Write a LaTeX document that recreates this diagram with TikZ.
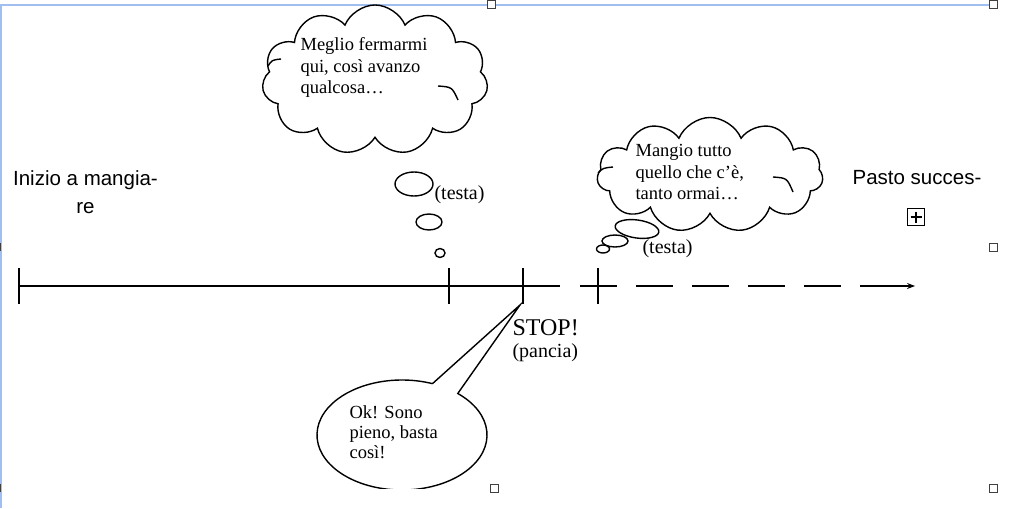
\documentclass[tikz,border=0pt]{standalone}
\usepackage{fontspec}
\setmainfont{Liberation Serif}
\newfontfamily\arialfont{Liberation Sans}
\usetikzlibrary{shapes.symbols,arrows.meta,calc}
\definecolor{selblue}{RGB}{160,190,240}
\begin{document}
\begin{tikzpicture}[x=1pt,y=-1pt,line width=1.1pt]
\tikzstyle{every node}+=[inner sep=0pt]
\tikzstyle{thought}=[draw,fill=white,line width=1.4pt,cloud,cloud puffs=11,cloud puff arc=135,cloud ignores aspect]
\tikzstyle{bubble}=[line width=1.4pt]
\tikzstyle{tick}=[line width=1.1pt]
\tikzstyle{handle}=[draw=black!75,fill=white,line width=0.7pt,minimum size=8pt]
\tikzstyle{serif}=[font=\fontsize{18.5}{21.5}\selectfont,align=left,anchor=north west]
\tikzstyle{sans}=[font=\arialfont\fontsize{20.5}{28}\selectfont,align=center,anchor=north]
\useasboundingbox (0,0) rectangle (1024,508);
\draw[selblue,line width=1.5pt] (0,5) -- (989,5);
\draw[selblue,line width=2pt] (1,5) -- (1,508);
\node[handle] (hTopMid) at (491,4) {};
\node[handle] (hTopRight) at (993,4) {};
\node[handle] (hRight) at (993,247) {};
\node[handle] (hBotMid) at (494,488) {};
\node[handle] (hBotRight) at (993,488) {};
\draw[black!75,line width=1pt] (0.5,243) -- (0.5,251);
\draw[black!75,line width=1pt] (0.5,484) -- (0.5,492);
\coordinate (start) at (19,286);
\coordinate (t1) at (449,286);
\coordinate (t2) at (523,286);
\coordinate (t3) at (598,286);
\coordinate (solidEnd) at (560,286);
\coordinate (dashStart) at (580,286);
\coordinate (dashEnd) at (860,286);
\coordinate (tip) at (915,286);
\draw (start) -- (solidEnd);
\draw[dash pattern=on 37pt off 19pt] (dashStart) -- (dashEnd);
\draw[-{Stealth[length=8pt,width=6pt]}] (dashEnd) -- (tip);
\draw[tick] (start) ++(0,-18) -- ++(0,36);
\draw[tick] (t1) ++(0,-18) -- ++(0,36);
\draw[tick] (t2) ++(0,-18) -- ++(0,36);
\draw[tick] (t3) ++(0,-18) -- ++(0,36);
\node[sans] (inizio) at (85.5,170) {Inizio a mangia-\\re};
\node[sans] (pasto) at (917,170) {Pasto succes-};
\node[draw,line width=1.3pt,minimum size=17pt] (expand) at (916,217) {};
\draw[line width=1.3pt] (expand.center) ++(-5.5,0) -- ++(11,0);
\draw[line width=1.3pt] (expand.center) ++(0,-5.5) -- ++(0,11);
\node[thought,minimum width=226pt,minimum height=150pt] (cloudA) at (375,80) {};
\draw[bubble] (268,66) .. controls (272,60) .. (281,59);
\draw[bubble] (438,86) .. controls (452,87) .. (458,100);
\node[serif] (thinkA) at (300,37) {Meglio fermarmi\\qui, così avanzo\\qualcosa…};
\draw[bubble] (414,184) ellipse (19 and 12);
\draw[bubble] (429,222) ellipse (13 and 8);
\draw[bubble] (440,253) ellipse (5 and 4.5);
\node[anchor=base west,font=\fontsize{20}{22}\selectfont] (testaA) at (434,199) {(testa)};
\node[thought,minimum width=226pt,minimum height=115pt] (cloudB) at (710,175) {};
\draw[bubble] (598,173) .. controls (603,168) .. (613,167);
\draw[bubble] (773,177) .. controls (787,178) .. (793,192);
\node[serif] (thinkB) at (635,144) {Mangio tutto\\quello che c’è,\\tanto ormai…};
\draw[bubble,rotate around={-8:(637,229)}] (637,229) ellipse (22 and 9);
\draw[bubble] (615,241) ellipse (13 and 6);
\draw[bubble] (603,249) ellipse (6.5 and 4);
\node[anchor=base west,font=\fontsize{20}{22}\selectfont] (testaB) at (642,253) {(testa)};
\node[anchor=base west,font=\fontsize{24}{24}\selectfont] (stop) at (512,335) {STOP!};
\node[anchor=base west,font=\fontsize{20}{22}\selectfont] (pancia) at (512,357) {(pancia)};
\coordinate (saycenter) at (402,435);
\coordinate (saytip) at (520,305);
\begin{scope}
\clip (0,0) rectangle (1024,488);
\draw[line width=1.4pt] ($(saycenter)+(-69:85 and 55)$) -- (saytip) -- ($(saycenter)+(-49:85 and 55)$) arc[start angle=-49,end angle=291,x radius=85,y radius=55];
\end{scope}
\node[serif,font=\fontsize{18.5}{20}\selectfont] (say) at (349,405) {Ok! Sono\\pieno, basta\\così!};
\end{tikzpicture}
\end{document}
